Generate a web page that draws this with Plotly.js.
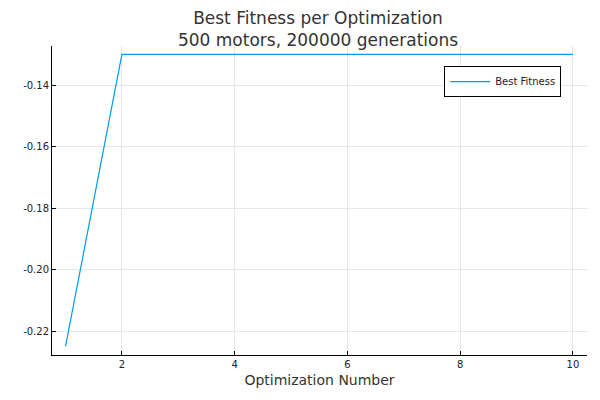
<!DOCTYPE html>
<html>
<head>
<script src="https://cdn.plot.ly/plotly-3.0.1.min.js"></script>
<style>body{margin:0}#chart{width:600px;height:400px}</style>
</head>
<body>
<div id="chart"></div>
<script>
// Optimization runs and their best fitness
const optimization = [1, 2, 3, 4, 5, 6, 7, 8, 9, 10];
const bestFitness = [-0.225, -0.13, -0.13, -0.13, -0.13, -0.13, -0.13, -0.13, -0.13, -0.13];
const yTicks = [-0.22, -0.20, -0.18, -0.16, -0.14];
const yTickText = ['-0.22', '-0.20', '-0.18', '-0.16', '-0.14'];
const xTicks = [2, 4, 6, 8, 10];

const trace = {
    x: optimization,
    y: bestFitness,
    mode: 'lines',
    name: 'Best Fitness',
    line: { color: '#009AFA', width: 1.2 }
};

const axisFont = { family: 'DejaVu Sans, sans-serif', size: 10, color: '#222' };

const layout = {
    width: 600, height: 400,
    margin: { l: 52, r: 13, t: 46, b: 45 },
    paper_bgcolor: 'white',
    plot_bgcolor: 'white',
    font: { family: 'DejaVu Sans, sans-serif', color: '#333' },
    title: {
        text: 'Best Fitness per Optimization<br>500 motors, 200000 generations',
        font: { size: 17, color: '#333' },
        x: 0.53, xanchor: 'center', yref: 'container', y: 0.94, yanchor: 'middle'
    },
    xaxis: {
        range: [0.76, 10.25],
        tickvals: xTicks,
        tickfont: axisFont,
        showgrid: true, gridcolor: '#e6e6e6',
        zeroline: false,
        showline: true, linecolor: 'black', linewidth: 1,
        ticks: 'inside', ticklen: 4, tickcolor: 'black',
        title: { text: 'Optimization Number', font: { size: 14, color: '#333' }, standoff: 6 }
    },
    yaxis: {
        range: [-0.2278, -0.1273],
        tickvals: yTicks,
        ticktext: yTickText,
        tickfont: axisFont,
        showgrid: true, gridcolor: '#e6e6e6',
        zeroline: false,
        showline: true, linecolor: 'black', linewidth: 1,
        ticks: 'inside', ticklen: 4, tickcolor: 'black'
    },
    showlegend: true,
    legend: {
        x: 0.733, y: 0.935, xanchor: 'left', yanchor: 'top',
        bordercolor: 'black', borderwidth: 1, bgcolor: 'white',
        itemwidth: 40,
        font: { size: 10, color: '#222' }
    }
};

Plotly.newPlot('chart', [trace], layout, { displayModeBar: false });
</script>
</body>
</html>
